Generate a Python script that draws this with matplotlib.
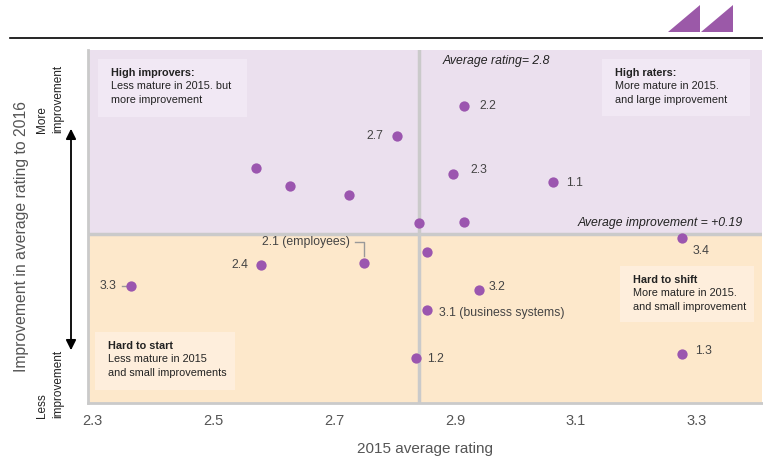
import matplotlib
matplotlib.use("Agg")
import matplotlib.pyplot as plt
from matplotlib.patches import Polygon, FancyArrowPatch

plt.rcParams['font.family'] = ['Liberation Sans', 'DejaVu Sans']

# 2015 average rating vs improvement to 2016
rating_2015 = [2.915, 2.804, 2.571, 2.627, 2.725, 2.897, 3.062, 2.840, 2.915,
               3.275, 2.854, 2.750, 2.579, 2.364, 2.940, 2.854, 2.836, 3.275]
improvement = [0.444, 0.384, 0.320, 0.284, 0.266, 0.308, 0.292, 0.210, 0.212,
               0.182, 0.154, 0.132, 0.128, 0.086, 0.078, 0.038, -0.058, -0.050]
labels = ["2.2", "2.7", "", "", "", "2.3", "1.1", "", "",
          "3.4", "", "2.1 (employees)", "2.4", "3.3", "3.2",
          "3.1 (business systems)", "1.2", "1.3"]
# label offsets in pixels (dx, dy, ha)
offsets = {"2.2": (15, 0, "left"), "2.7": (-14, 0, "right"),
           "2.3": (17, 4, "left"), "1.1": (13, -1, "left"),
           "3.4": (11, -13, "left"), "2.1 (employees)": (-14, 21, "right"),
           "2.4": (-13, 0, "right"), "3.3": (-14, 0, "right"),
           "3.2": (9, 3, "left"), "3.1 (business systems)": (12, -3, "left"),
           "1.2": (11, -1, "left"), "1.3": (14, 3, "left")}

avg_rating = 2.84
avg_improvement = 0.19
xticks = [2.3, 2.5, 2.7, 2.9, 3.1, 3.3]
xlim = (2.293, 3.408)
ylim = (-0.148, 0.556)

purple_bg = "#EBE0EE"
purple_box = "#F1E8F4"
orange_bg = "#FDE8CB"
orange_box = "#FEEEDC"
dot_color = "#9B56AF"
grey_line = "#CACACA"
text_grey = "#555555"

fig = plt.figure(figsize=(7.63, 4.57), dpi=100)
ax = fig.add_axes([88 / 763, 1 - 403 / 457, 674 / 763, 353 / 457])
ax.set_xlim(*xlim)
ax.set_ylim(*ylim)

# quadrant backgrounds
ax.axhspan(avg_improvement, ylim[1], color=purple_bg, zorder=0, lw=0)
ax.axhspan(ylim[0], avg_improvement, color=orange_bg, zorder=0, lw=0)
ax.axvline(avg_rating, color=grey_line, lw=2.5, zorder=1)
ax.axhline(avg_improvement, color=grey_line, lw=2.5, zorder=1)

ax.scatter(rating_2015, improvement, s=55, color=dot_color, zorder=3, lw=0)

for x, y, lab in zip(rating_2015, improvement, labels):
    if not lab:
        continue
    dx, dy, ha = offsets[lab]
    ax.annotate(lab, (x, y), xytext=(dx, dy), textcoords="offset pixels",
                ha=ha, va="center", fontsize=8.8, color="#444444", zorder=4)

# leader lines
i = labels.index("2.1 (employees)")
p = ax.transData.transform((rating_2015[i], improvement[i]))
pts = ax.transData.inverted().transform([[p[0] - 9, p[1] + 21], [p[0], p[1] + 21], [p[0], p[1] + 7]])
ax.plot(pts[:, 0], pts[:, 1], color="#999999", lw=1, zorder=2)
i = labels.index("3.3")
p = ax.transData.transform((rating_2015[i], improvement[i]))
pts = ax.transData.inverted().transform([[p[0] - 9, p[1]], [p[0] - 4, p[1]]])
ax.plot(pts[:, 0], pts[:, 1], color="#999999", lw=1, zorder=2)

# reference line captions
fig.text(443 / 763, 1 - 61 / 457, "Average rating= 2.8", style="italic",
         fontsize=8.8, va="center", ha="left", color="#222222")
fig.text(743 / 763, 1 - 223 / 457, "Average improvement = +0.19", style="italic",
         fontsize=8.8, va="center", ha="right", color="#222222")

# quadrant description boxes
boxes = [
    (98, 59, 149, 58, purple_box, "High improvers:", "Less mature in 2015. but\nmore improvement"),
    (602, 59, 148, 57, purple_box, "High raters:", "More mature in 2015.\nand large improvement"),
    (95, 332, 140, 58, orange_box, "Hard to start", "Less mature in 2015\nand small improvements"),
    (620, 266, 134, 56, orange_box, "Hard to shift", "More mature in 2015.\nand small improvement"),
]
for bx, by, bw, bh, col, title, body in boxes:
    fig.patches.append(plt.Rectangle((bx / 763, 1 - (by + bh) / 457), bw / 763, bh / 457,
                                     transform=fig.transFigure, color=col, lw=0, zorder=2))
    fig.text((bx + 13) / 763, 1 - (by + 14) / 457, title, fontsize=7.8, weight="bold",
             va="center", ha="left", color="#222222", zorder=5)
    fig.text((bx + 13) / 763, 1 - (by + 22) / 457, body, fontsize=7.8, va="top",
             ha="left", color="#222222", linespacing=1.45, zorder=5)

# axes styling
ax.set_xticks(xticks)
ax.set_xticklabels([f"{t:.1f}" for t in xticks], color=text_grey, fontsize=10.5)
ax.set_yticks([])
ax.tick_params(axis="x", length=0, pad=8)
for s in ["top", "right"]:
    ax.spines[s].set_visible(False)
for s in ["left", "bottom"]:
    ax.spines[s].set_color(grey_line)
    ax.spines[s].set_linewidth(2)
ax.set_xlabel("2015 average rating", color=text_grey, fontsize=11, labelpad=10)

fig.text(22 / 763, 1 - 236 / 457, "Improvement in average rating to 2016", rotation=90,
         va="center", ha="center", color=text_grey, fontsize=11.3)
fig.text(50 / 763, 1 - 99 / 457, "More\nimprovement", rotation=90, va="center",
         ha="center", multialignment="left", fontsize=8.5, color="#222222", linespacing=1.4)
fig.text(50 / 763, 1 - 384 / 457, "Less\nimprovement", rotation=90, va="center",
         ha="center", multialignment="left", fontsize=8.5, color="#222222", linespacing=1.4)
fig.patches.append(FancyArrowPatch(
    (71 / 763, 1 - 353 / 457), (71 / 763, 1 - 126 / 457), transform=fig.transFigure,
    arrowstyle="<|-|>", mutation_scale=15, color="black", lw=1.3))

# header rule and logo
fig.add_artist(plt.Line2D([10 / 763, 1], [1 - 38 / 457] * 2, color="black", lw=1.2))
for x0 in (668, 701):
    fig.patches.append(Polygon([(x0 / 763, 1 - 32 / 457), ((x0 + 32) / 763, 1 - 32 / 457),
                                ((x0 + 32) / 763, 1 - 5 / 457)], closed=True,
                               transform=fig.transFigure, color="#9B59A8", lw=0))

fig.savefig("out.png", dpi=100)
